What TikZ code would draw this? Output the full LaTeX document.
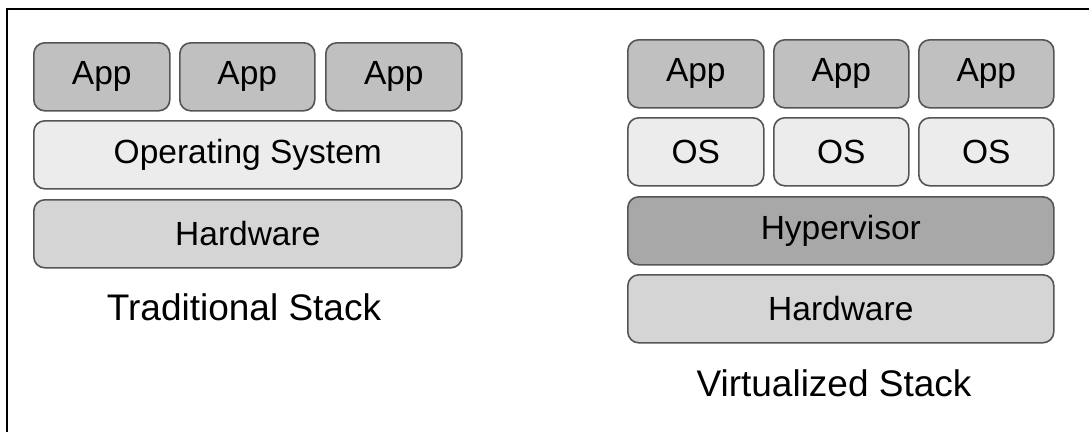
\documentclass[tikz,border=0pt]{standalone}
\usepackage{fontspec}
\setmainfont{Liberation Sans}
\definecolor{appgray}{RGB}{192,192,192}
\definecolor{osgray}{RGB}{236,236,236}
\definecolor{hwgray}{RGB}{213,213,213}
\definecolor{hvgray}{RGB}{168,168,168}
\definecolor{edgegray}{RGB}{85,85,85}
\begin{document}
\begin{tikzpicture}[x=1pt,y=-1pt,
  layer/.style={draw=edgegray,line width=1.6pt,rounded corners=11pt,minimum height=68pt,inner sep=0pt,font=\fontsize{33.5}{38}\selectfont,anchor=north west},
  appbox/.style={layer,fill=appgray,minimum width=136pt},
  osbox/.style={layer,fill=osgray},
  hwbox/.style={layer,fill=hwgray},
  hvbox/.style={layer,fill=hvgray},
  title/.style={font=\fontsize{37}{42}\selectfont,inner sep=0pt}]
\useasboundingbox (0,0) rectangle (1089,432);
\fill[white] (0,0) rectangle (1089,432);
\draw[line width=2.2pt,black] (7,432) -- (7,9) -- (1089,9);
% Traditional stack
\node[appbox] (ta1) at (33,42) {App};
\node[appbox,minimum width=135pt] (ta2) at (179,42) {App};
\node[appbox] (ta3) at (325,42) {App};
\node[osbox,minimum width=428pt] (tos) at (33,120) {Operating System};
\node[hwbox,minimum width=428pt] (thw) at (33,199) {Hardware};
\node[title] (tt) at (244,307) {Traditional Stack};
% Virtualized stack
\node[appbox] (va1) at (627,39) {App};
\node[appbox,minimum width=135pt] (va2) at (773,39) {App};
\node[appbox,minimum width=135pt] (va3) at (918,39) {App};
\node[osbox,minimum width=136pt] (vo1) at (627,117) {OS};
\node[osbox,minimum width=135pt] (vo2) at (773,117) {OS};
\node[osbox,minimum width=135pt] (vo3) at (918,117) {OS};
\node[hvbox,minimum width=426pt] (vhv) at (627,196) {Hypervisor};
\node[hwbox,minimum width=426pt] (vhw) at (627,274) {Hardware};
\node[title] (vt) at (834,383) {Virtualized Stack};
\end{tikzpicture}
\end{document}
